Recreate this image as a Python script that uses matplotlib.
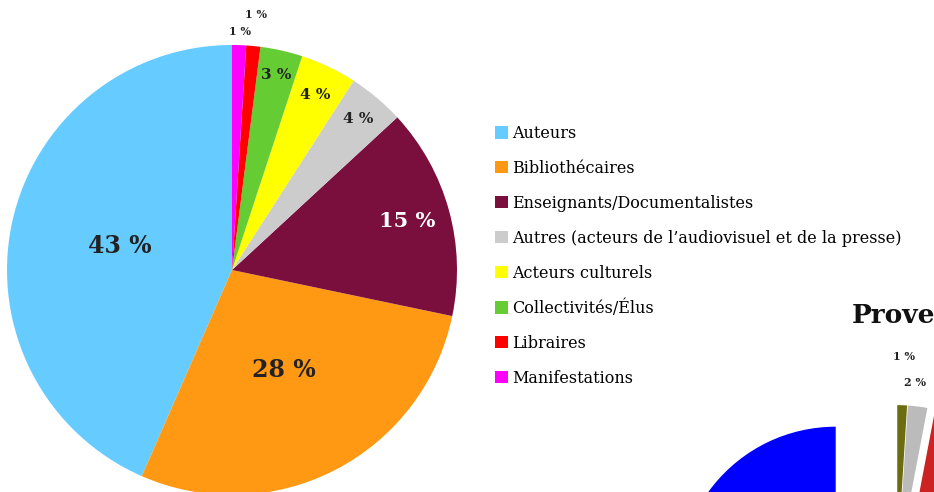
import numpy as np
import matplotlib
matplotlib.use("Agg")
import matplotlib.pyplot as plt

# main pie: share of each profile
categories = ["Auteurs", "Bibliothécaires", "Enseignants/Documentalistes",
              "Autres (acteurs de l\u2019audiovisuel et de la presse)",
              "Acteurs culturels", "Collectivités/Élus", "Libraires", "Manifestations"]
values = [43, 28, 15, 4, 4, 3, 1, 1]
pct_labels = ["43 %", "28 %", "15 %", "4 %", "4 %", "3 %", "1 %", "1 %"]
colors = ["#66ccff", "#ff9914", "#7a0f3e", "#cccccc", "#ffff00", "#66cc33", "#ff0000", "#ff00ff"]

# second (partially visible) pie
values2 = [57, 40, 2, 1]
pct_labels2 = ["", "", "2 %", "1 %"]
colors2 = ["#0000ff", "#cc2222", "#bbbbbb", "#6b6b10"]
explode2 = [0.4, 0.05, 0.05, 0.05]

W, H = 934, 492
fig = plt.figure(figsize=(W / 100, H / 100), dpi=100)

def axes_px(cx, cy, r, lim):
    # axes so that data radius 1 == r pixels, centered on (cx, cy) from top-left
    half = lim * r
    return fig.add_axes([(cx - half) / W, (H - cy - half) / H, 2 * half / W, 2 * half / H])

ax = axes_px(232, 270, 225, 1.2)
wedges, _ = ax.pie(values, colors=colors, startangle=90, counterclock=True)
ax.set_xlim(-1.2, 1.2)
ax.set_ylim(-1.2, 1.2)
ax.set_aspect("equal")
ax.axis("off")

# label positions: (radius, font size, color)
lab_style = [(0.51, 17, "#222222"), (0.5, 17, "#222222"), (0.81, 15, "white"),
             (0.875, 11, "#222222"), (0.86, 11, "#222222"), (0.89, 11, "#222222"),
             (1.14, 8, "#222222"), (1.06, 8, "#222222")]
for w, txt, (r, fs, c) in zip(wedges, pct_labels, lab_style):
    a = np.deg2rad((w.theta1 + w.theta2) / 2)
    ax.text(r * np.cos(a), r * np.sin(a), txt, ha="center", va="center",
            fontsize=fs, fontweight="bold", family="DejaVu Serif", color=c, clip_on=False)

fig.legend(wedges, categories, loc="upper left", bbox_to_anchor=(495 / W, 1 - 125 / H),
           frameon=False, prop={"family": "DejaVu Serif", "size": 11.5},
           handlelength=0.8, handleheight=0.8, handletextpad=0.3,
           labelspacing=1.12, borderpad=0, borderaxespad=0)

ax2 = axes_px(897, 570, 157, 1.6)
w2, _ = ax2.pie(values2, colors=colors2, startangle=90, counterclock=True, explode=explode2)
ax2.set_xlim(-1.6, 1.6)
ax2.set_ylim(-1.6, 1.6)
ax2.set_aspect("equal")
ax2.axis("off")
# (radius, angle offset) for the small labels
for w, txt, (r, da) in zip(w2, pct_labels2, [(0, 0), (0, 0), (1.2, 1.7), (1.36, 0)]):
    if not txt:
        continue
    a = np.deg2rad((w.theta1 + w.theta2) / 2 + da)
    ax2.text(r * np.cos(a), r * np.sin(a), txt, ha="center", va="center",
             fontsize=8, fontweight="bold", family="DejaVu Serif", color="#222222", clip_on=False)

fig.text(852 / W, 1 - 323 / H, "Prove", fontsize=19, fontweight="bold",
         family="DejaVu Serif", color="#111111", ha="left", va="baseline")

fig.savefig("out.png", dpi=100)
